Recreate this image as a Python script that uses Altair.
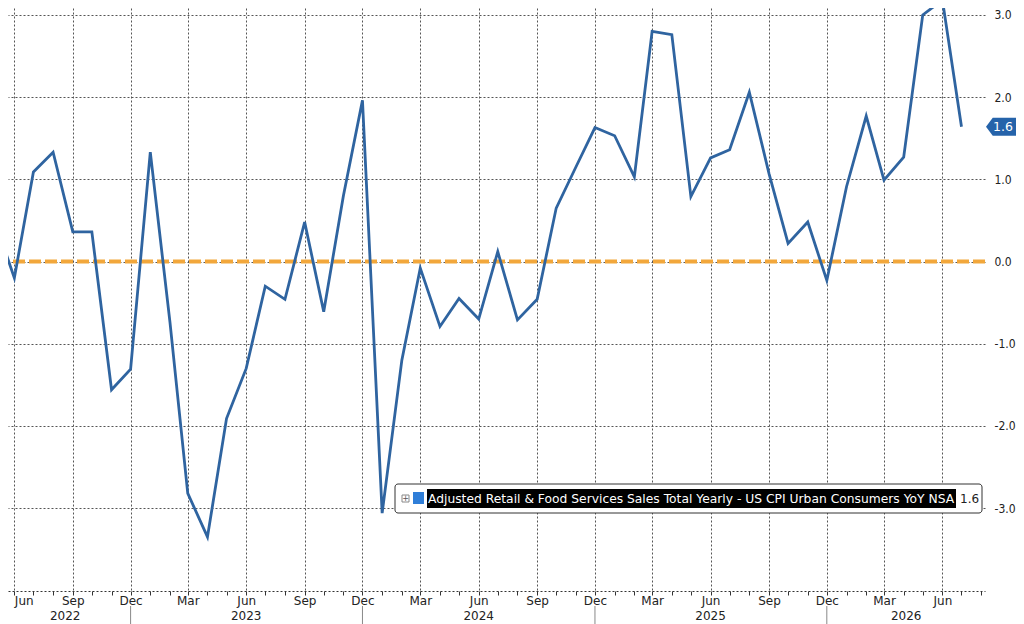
import altair as alt
import pandas as pd

# ---------------- data ----------------
start_month = "2022-05-01"
values = [
    0.50, -0.20, 1.09, 1.33, 0.36, 0.36, -1.56, -1.31,              # 2022 May-Dec
    1.33, -0.74, -2.82, -3.35, -1.91, -1.30, -0.30, -0.46, 0.48, -0.61, 0.80, 1.96,  # 2023
    -3.06, -1.20, -0.08, -0.79, -0.45, -0.70, 0.12, -0.71, -0.46, 0.65, 1.15, 1.63,  # 2024
    1.53, 1.03, 2.80, 2.76, 0.79, 1.26, 1.36, 2.06, 1.07, 0.22, 0.48, -0.23,          # 2025
    0.91, 1.77, 0.99, 1.27, 3.00, 3.18, 1.64,                                        # 2026 Jan-Jul
]
series_name = "Adjusted Retail & Food Services Sales Total Yearly - US CPI Urban Consumers YoY NSA"
year_labels = ["2022", "2023", "2024", "2025", "2026"]
year_label_dates = ["2022-08-20", "2023-06-01", "2024-06-01", "2025-06-01", "2026-04-05"]
year_break_dates = ["2022-12-01", "2023-12-01", "2024-12-01", "2025-12-01"]
y_ticks = [-3.0, -2.0, -1.0, 0.0, 1.0, 2.0, 3.0]
reference_level = [0.0]

dates = pd.date_range(start_month, periods=len(values), freq="MS").strftime("%Y-%m-%d").tolist()
df = pd.DataFrame({"date": dates, "value": values})
last_df = df.tail(1).copy()

tick_months = pd.date_range("2022-06-01", "2026-08-01", freq="MS")
tick_values = [alt.DateTime(year=d.year, month=d.month, date=1, utc=True) for d in tick_months]

W, H = 977, 583
FONT = "DejaVu Sans"
LINE_COL = "#2f64a0"
GRID_COL = "#555555"

x_scale = alt.Scale(type="utc",
                    domain=[alt.DateTime(year=2022, month=5, date=22, utc=True),
                            alt.DateTime(year=2026, month=8, date=7, utc=True)])
y_scale = alt.Scale(domain=[-4.008, 3.084], nice=False, zero=False)

x_axis = alt.Axis(
    values=tick_values,
    labelExpr="indexof([2,5,8,11], utcmonth(datum.value)) >= 0 ? utcFormat(datum.value, '%b') : ''",
    labelAlign={"condition": {"test": "utcyear(datum.value) == 2022 && utcmonth(datum.value) == 5",
                              "value": "left"}, "value": "center"},
    labelOverlap=False, labelFlush=False,
    labelFont=FONT, labelFontSize=12, labelColor="#222222", labelPadding=0,
    tickSize=4, tickColor="#333333",
    domainColor="#333333", domainDash=[2, 2],
    grid=True, gridColor=GRID_COL, gridDash=[2, 2], gridWidth=1,
    gridOpacity={"condition": {"test": "utcmonth(datum.value) % 3 == 2", "value": 1}, "value": 0},
    title=None,
)
y_axis = alt.Axis(
    orient="right", values=y_ticks,
    labelExpr="(datum.value < 0 ? '-' : '') + format(abs(datum.value), '.1f')",
    labelFont="DejaVu Sans Condensed", labelFontSize=12, labelColor="#222222",
    labelPadding=9, labelAlign="left",
    tickSize=0, domain=False,
    grid=True, gridColor=GRID_COL, gridDash=[2, 2], gridWidth=1,
    title=None,
)

line = alt.Chart(df).mark_line(color=LINE_COL, strokeWidth=2.8, clip=True).encode(
    x=alt.X("date:T", scale=x_scale, axis=x_axis),
    y=alt.Y("value:Q", scale=y_scale, axis=y_axis),
)

zero_rule = alt.Chart(pd.DataFrame({"level": reference_level})).mark_rule(
    color="#f2a73b", strokeWidth=4, strokeDash=[12, 4]
).encode(y=alt.Y("level:Q", scale=y_scale, axis=y_axis))

year_df = pd.DataFrame({"date": year_label_dates, "year": year_labels})
year_text = alt.Chart(year_df).mark_text(
    font=FONT, fontSize=12, color="#222222", baseline="middle", align="center", clip=False
).encode(x=alt.X("date:T", scale=x_scale, axis=x_axis), y=alt.value(608), text="year:N")

break_df = pd.DataFrame({"date": year_break_dates})
year_breaks = alt.Chart(break_df).mark_rule(color="#888888", strokeWidth=1, clip=False).encode(
    x=alt.X("date:T", scale=x_scale, axis=x_axis), y=alt.value(598), y2=alt.value(616)
)

# legend box
leg_df = pd.DataFrame({"name": [series_name], "last": [f"{values[-1]:.1f}"]})
leg_box = alt.Chart(leg_df).mark_rect(
    fill="white", stroke="#333333", strokeWidth=1, cornerRadius=3
).encode(x=alt.value(387), x2=alt.value(974), y=alt.value(476), y2=alt.value(505))
leg_hl = alt.Chart(leg_df).mark_rect(fill="black").encode(
    x=alt.value(419), x2=alt.value(948), y=alt.value(481), y2=alt.value(500))
leg_sq = alt.Chart(leg_df).mark_rect(fill="#2f7ed8").encode(
    x=alt.value(405), x2=alt.value(416), y=alt.value(484), y2=alt.value(496))
leg_icon = alt.Chart(leg_df).mark_rect(fill="white", stroke="#888888", strokeWidth=1).encode(
    x=alt.value(394), x2=alt.value(401), y=alt.value(487), y2=alt.value(494))
leg_plus = alt.Chart(leg_df).mark_text(
    text="+", font=FONT, fontSize=8, color="#555555", align="center", baseline="middle"
).encode(x=alt.value(397.5), y=alt.value(490.5))
leg_text = alt.Chart(leg_df).mark_text(
    font=FONT, fontSize=12.3, color="white", align="left", baseline="middle"
).encode(x=alt.value(420), y=alt.value(491), text="name:N")
leg_last = alt.Chart(leg_df).mark_text(
    font=FONT, fontSize=12, color="#222222", align="left", baseline="middle"
).encode(x=alt.value(952), y=alt.value(491), text="last:N")

# last-value tag on the right
tag_shape = "M-1,0L-0.55,-0.6L1,-0.6L1,0.6L-0.55,0.6Z"
tag = alt.Chart(last_df).mark_point(
    shape=tag_shape, size=900, filled=True, fill="#2563aa", strokeWidth=0, opacity=1, clip=False
).encode(x=alt.value(993), y=alt.Y("value:Q", scale=y_scale, axis=y_axis))
tag_text = alt.Chart(last_df).mark_text(
    font=FONT, fontSize=12.5, color="white", align="center", baseline="middle", clip=False
).encode(x=alt.value(995), y=alt.Y("value:Q", scale=y_scale, axis=y_axis),
         text=alt.Text("value:Q", format=".1f"))

chart = alt.layer(
    zero_rule, line, year_breaks, year_text,
    leg_box, leg_hl, leg_sq, leg_icon, leg_plus, leg_text, leg_last,
    tag, tag_text,
).properties(
    width=W, height=H,
    padding={"left": 0, "top": 0, "right": 31, "bottom": 33},
    autosize=alt.AutoSizeParams(type="none"),
    background="white",
).configure_view(stroke=None)

chart.save("out.html", embed_options={"renderer": "svg", "actions": False})
